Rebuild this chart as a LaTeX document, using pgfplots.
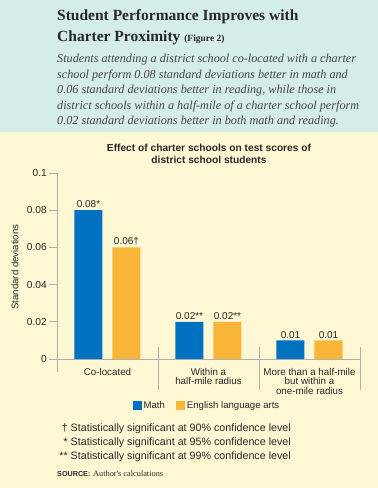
\documentclass[border=0pt]{standalone}
\usepackage{pgfplots}
\pgfplotsset{compat=1.18}
\usepackage{fontspec}
\setmainfont{Liberation Sans}
\newfontfamily\seriffont{Liberation Serif}
\definecolor{topbg}{RGB}{212,236,234}
\definecolor{ybg}{RGB}{254,247,212}
\definecolor{mathblue}{RGB}{0,112,192}
\definecolor{elaorange}{RGB}{248,181,56}
\definecolor{txt}{RGB}{40,40,40}
\definecolor{itxt}{RGB}{70,70,70}
\definecolor{axgray}{RGB}{175,175,175}
\begin{document}
\begin{tikzpicture}
\fill[topbg] (0pt,0pt) rectangle (378pt,-132pt);
\fill[ybg] (0pt,-132pt) rectangle (378pt,-488pt);
\useasboundingbox (0pt,0pt) rectangle (378pt,-488pt);
% header
\node[anchor=base west, inner sep=0pt, text=txt, font=\seriffont\bfseries\fontsize{15.5}{18}\selectfont] at (57pt,-20pt) {Student Performance Improves with};
\node[anchor=base west, inner sep=0pt, text=txt, font=\seriffont\bfseries\fontsize{15.5}{18}\selectfont] at (57pt,-41pt) {Charter Proximity {\fontsize{9.5}{10}\selectfont (Figure 2)}};
\begin{scope}[every node/.style={anchor=base west, inner sep=0pt, text=itxt, font=\seriffont\itshape\fontsize{12.2}{14}\selectfont}]
\node at (57pt,-62pt) {Students attending a district school co-located with a charter};
\node at (57pt,-78pt) {school perform 0.08 standard deviations better in math and};
\node at (57pt,-93.5pt) {0.06 standard deviations better in reading, while those in};
\node at (57pt,-109pt) {district schools within a half-mile of a charter school perform};
\node at (57pt,-124.5pt) {0.02 standard deviations better in both math and reading.};
\end{scope}
% chart title
\node[anchor=base, inner sep=0pt, text=txt, font=\bfseries\fontsize{10.2}{12}\selectfont] at (209pt,-151pt) {Effect of charter schools on test scores of};
\node[anchor=base, inner sep=0pt, text=txt, font=\bfseries\fontsize{10.2}{12}\selectfont] at (209pt,-163.5pt) {district school students};
% y label
\node[rotate=90, inner sep=0pt, text=txt, font=\fontsize{9.6}{10}\selectfont] at (15pt,-267pt) {Standard deviations};
\begin{axis}[
  at={(57pt,-359pt)}, anchor=south west,
  scale only axis, width=303pt, height=186pt,
  xmin=-0.5, xmax=2.5, ymin=0, ymax=0.1,
  axis line style={draw=none},
  clip=false,
  ybar=10pt, bar width=28pt,
  ytick={0,0.02,0.04,0.06,0.08,0.1},
  yticklabels={0,0.02,0.04,0.06,0.08,0.1},
  ytick pos=left, xtick pos=bottom,
  ytick align=outside,
  major tick length=8pt,
  ytick style={draw=axgray, line width=0.7pt},
  xtick={0,1,2},
  xtick style={draw=none},
  xticklabels={Co-located,{Within a\\half-mile radius},{More than a half-mile\\but within a\\one-mile radius}},
  xticklabel style={align=center, anchor=north, inner sep=0pt, yshift=-1pt, text=txt, font=\fontsize{9.8}{9.6}\selectfont},
  yticklabel style={text=txt, font=\fontsize{10.2}{11}\selectfont, inner sep=2pt},
  nodes near coords,
  point meta=explicit symbolic,
  nodes near coords style={text=txt, font=\fontsize{10}{10}\selectfont, inner sep=2pt},
  legend columns=2,
  legend style={at={(0.495,-0.253)}, anchor=center, draw=none, fill=none, text=txt, font=\fontsize{9.6}{11}\selectfont, /tikz/every even column/.append style={column sep=9pt}},
  legend image code/.code={\fill[#1, draw=none] (0pt,-3.5pt) rectangle (9pt,5.5pt);},
]
\addplot[fill=mathblue, draw=none] coordinates {(0,0.08) [0.08*] (1,0.02) [0.02**] (2,0.01) [0.01]};
\addlegendentry{Math}
\addplot[fill=elaorange, draw=none] coordinates {(0,0.06) [0.06†] (1,0.02) [0.02**] (2,0.01) [0.01]};
\addlegendentry{English language arts}
\draw[axgray, line width=0.7pt] (axis cs:-0.5,-0.0072) -- (axis cs:-0.5,0.1);
\draw[axgray, line width=0.7pt] (axis cs:-0.5,0) -- (axis cs:2.5,0);
\draw[axgray, line width=0.7pt] (axis cs:0.5,0.0065) -- (axis cs:0.5,-0.0167);
\draw[axgray, line width=0.7pt] (axis cs:1.5,0.0065) -- (axis cs:1.5,-0.0167);
\draw[axgray, line width=0.7pt] (axis cs:2.5,0.0065) -- (axis cs:2.5,-0.0167);
\end{axis}
% footnotes
\node[anchor=east, align=right, inner sep=0pt, text=txt, font=\fontsize{10.7}{14}\selectfont] at (291pt,-443pt) {† Statistically significant at 90\% confidence level\\* Statistically significant at 95\% confidence level\\** Statistically significant at 99\% confidence level};
\node[anchor=base west, inner sep=0pt, text=txt] at (57pt,-476pt) {{\bfseries\fontsize{7.2}{8}\selectfont SOURCE:} {\seriffont\fontsize{8.3}{8}\selectfont Author's calculations}};
\end{tikzpicture}
\end{document}
